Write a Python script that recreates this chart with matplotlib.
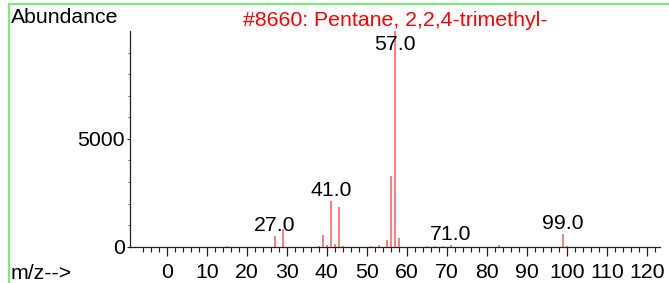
import matplotlib
matplotlib.use("Agg")
import matplotlib.pyplot as plt
from matplotlib.ticker import MultipleLocator, FixedLocator
from matplotlib.lines import Line2D

plt.rcParams['font.family'] = ['Liberation Sans', 'DejaVu Sans']

# data: m/z and abundance
mz = [15, 27, 29, 38, 39, 40, 41, 42, 43, 44, 51, 53, 55, 56, 57, 58,
      65, 67, 69, 71, 83, 99, 100]
abundance = [30, 500, 815, 40, 540, 100, 2115, 110, 1830, 30, 30, 90, 320, 3300, 9999, 415,
             25, 30, 40, 90, 80, 585, 40]
labeled_mz = [27, 41, 57, 71, 99]
title = "#8660: Pentane, 2,2,4-trimethyl-"
x_ticks = list(range(0, 121, 10))
y_ticks = [0, 5000]

FS = 15.3
W, H = 669, 283
fig = plt.figure(figsize=(W / 100, H / 100), dpi=100)
ax = fig.add_axes([130 / W, (H - 246.7) / H, 530 / W, (246.7 - 31) / H])

ax.vlines(mz, 0, abundance, colors='#ff5a5a', linewidth=1.1)

ax.set_xlim(-9.175, 123.3)
ax.set_ylim(0, 9999)

for s in ['top', 'right']:
    ax.spines[s].set_visible(False)
for s in ['left', 'bottom']:
    ax.spines[s].set_color('#222222')
    ax.spines[s].set_linewidth(0.9)

ax.xaxis.set_major_locator(FixedLocator(x_ticks))
ax.xaxis.set_minor_locator(FixedLocator([v for v in range(-6, 123, 2) if v % 10 != 0]))
ax.yaxis.set_major_locator(FixedLocator(y_ticks))
ax.yaxis.set_minor_locator(MultipleLocator(1000))

ax.tick_params(axis='x', which='major', direction='out', length=6.5, width=0.9,
               color='#222222', labelsize=FS, pad=5)
ax.tick_params(axis='x', which='minor', direction='out', length=3.8, width=0.8,
               color='#222222')
ax.tick_params(axis='y', which='major', direction='out', length=2.2, width=0.8,
               color='#222222', labelsize=FS, pad=1.5)
ax.tick_params(axis='y', which='minor', direction='out', length=1.2, width=0.6,
               color='#444444')

# peak labels
px_per_unit = (246.7 - 31) / 9999
offset = 5 / px_per_unit
cap = (246.7 - 50) / px_per_unit
for m in labeled_mz:
    h = abundance[mz.index(m)]
    ax.text(m, min(h + offset, cap), f"{m:.1f}", ha='center', va='baseline',
            fontsize=FS, color='black')

fig.text(395.5 / W, 1 - 26 / H, title, ha='center', va='baseline', fontsize=FS,
         color='#ff0000')
fig.text(10.5 / W, 1 - 23.3 / H, "Abundance", ha='left', va='baseline', fontsize=FS)
fig.text(10.5 / W, 1 - 279 / H, "m/z-->", ha='left', va='baseline', fontsize=FS)

# green frame lines
fig.add_artist(Line2D([9.3 / W, 1], [1 - 4 / H, 1 - 4 / H], color='#7ee87e',
                      linewidth=1.6, transform=fig.transFigure))
fig.add_artist(Line2D([9.3 / W, 9.3 / W], [0, 1 - 4 / H], color='#7ee87e',
                      linewidth=1.6, transform=fig.transFigure))

fig.savefig("out.png", dpi=100)
